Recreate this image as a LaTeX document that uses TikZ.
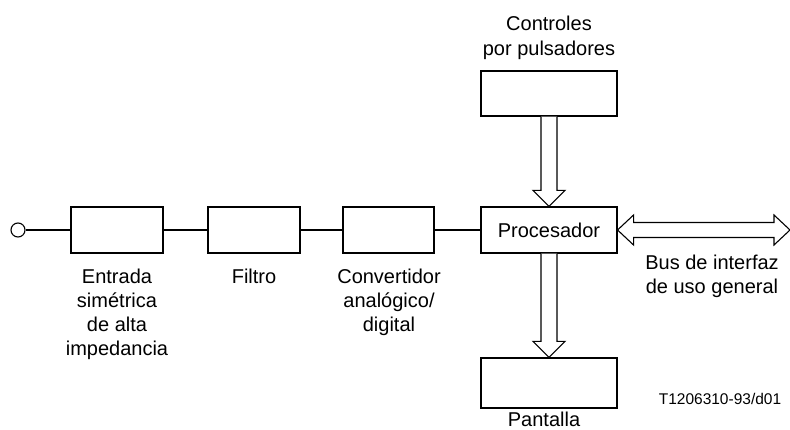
\documentclass[tikz,border=0pt]{standalone}
\usepackage{fontspec}
\setmainfont{Liberation Sans}
\usetikzlibrary{calc}
\begin{document}
\begin{tikzpicture}[x=1pt,y=-1pt,
  line width=1.1pt,
  blk/.style={draw, minimum width=92pt, minimum height=46pt, inner sep=0pt},
  pblk/.style={draw, minimum width=136pt, inner sep=0pt},
  lbl/.style={font=\fontsize{20}{24}\selectfont, align=center, inner sep=0pt},
  hollow/.style={draw, fill=white, line width=1.1pt, line join=miter}]
\useasboundingbox (0,0) rectangle (790,430);
% nodes
\node[circle, draw, minimum size=14pt, inner sep=0pt] (in) at (18,230) {};
\node[blk] (ent) at (117,230) {};
\node[blk] (fil) at (254,230) {};
\node[blk, minimum width=91pt] (conv) at (388.5,230) {};
\node[pblk, minimum height=46pt, font=\fontsize{20}{24}\selectfont] (proc) at (549,230) {Procesador};
\node[pblk, minimum height=45pt] (ctrl) at (549,93.5) {};
\node[pblk, minimum height=50pt] (disp) at (549,383) {};
% labels
\node[lbl, anchor=north] (lent) at (117,268) {Entrada\\simétrica\\de alta\\impedancia};
\node[lbl, anchor=north] (lfil) at (254,268) {Filtro};
\node[lbl, anchor=north] (lconv) at (389,268) {Convertidor\\analógico/\\digital};
\node[lbl, anchor=north, font=\fontsize{20}{25}\selectfont] (lctrl) at (549,15) {Controles\\por pulsadores};
\node[lbl, anchor=north] (lbus) at (712,254) {Bus de interfaz\\de uso general};
\node[lbl, anchor=base] (ldisp) at (544,426) {Pantalla};
\node[font=\fontsize{15.5}{18}\selectfont, inner sep=0pt] (code) at (720,399) {T1206310-93/d01};
\coordinate (busend) at (790,230);
% connectors
\draw (in.east) -- (ent.west);
\draw (ent.east) -- (fil.west);
\draw (fil.east) -- (conv.west);
\draw (conv.east) -- (proc.west);
% hollow arrow down from controls
\draw[hollow] ($(ctrl.south)+(-8,0)$) -- ($(proc.north)+(-8,-16)$) -- ($(proc.north)+(-16,-16)$)
  -- (proc.north) -- ($(proc.north)+(16,-16)$) -- ($(proc.north)+(8,-16)$) -- ($(ctrl.south)+(8,0)$);
% hollow arrow down to display
\draw[hollow] ($(proc.south)+(-8,0)$) -- ($(disp.north)+(-8,-16)$) -- ($(disp.north)+(-16,-16)$)
  -- (disp.north) -- ($(disp.north)+(16,-16)$) -- ($(disp.north)+(8,-16)$) -- ($(proc.south)+(8,0)$);
% bus double arrow
\draw[hollow] ($(proc.east)+(16,-7.5)$) -- ($(busend)+(-16,-7.5)$) -- ($(busend)+(-16,-15)$) -- (busend)
  -- ($(busend)+(-16,15)$) -- ($(busend)+(-16,7.5)$) -- ($(proc.east)+(16,7.5)$)
  -- ($(proc.east)+(16,15)$) -- (proc.east) -- ($(proc.east)+(16,-15)$) -- cycle;
\end{tikzpicture}
\end{document}
